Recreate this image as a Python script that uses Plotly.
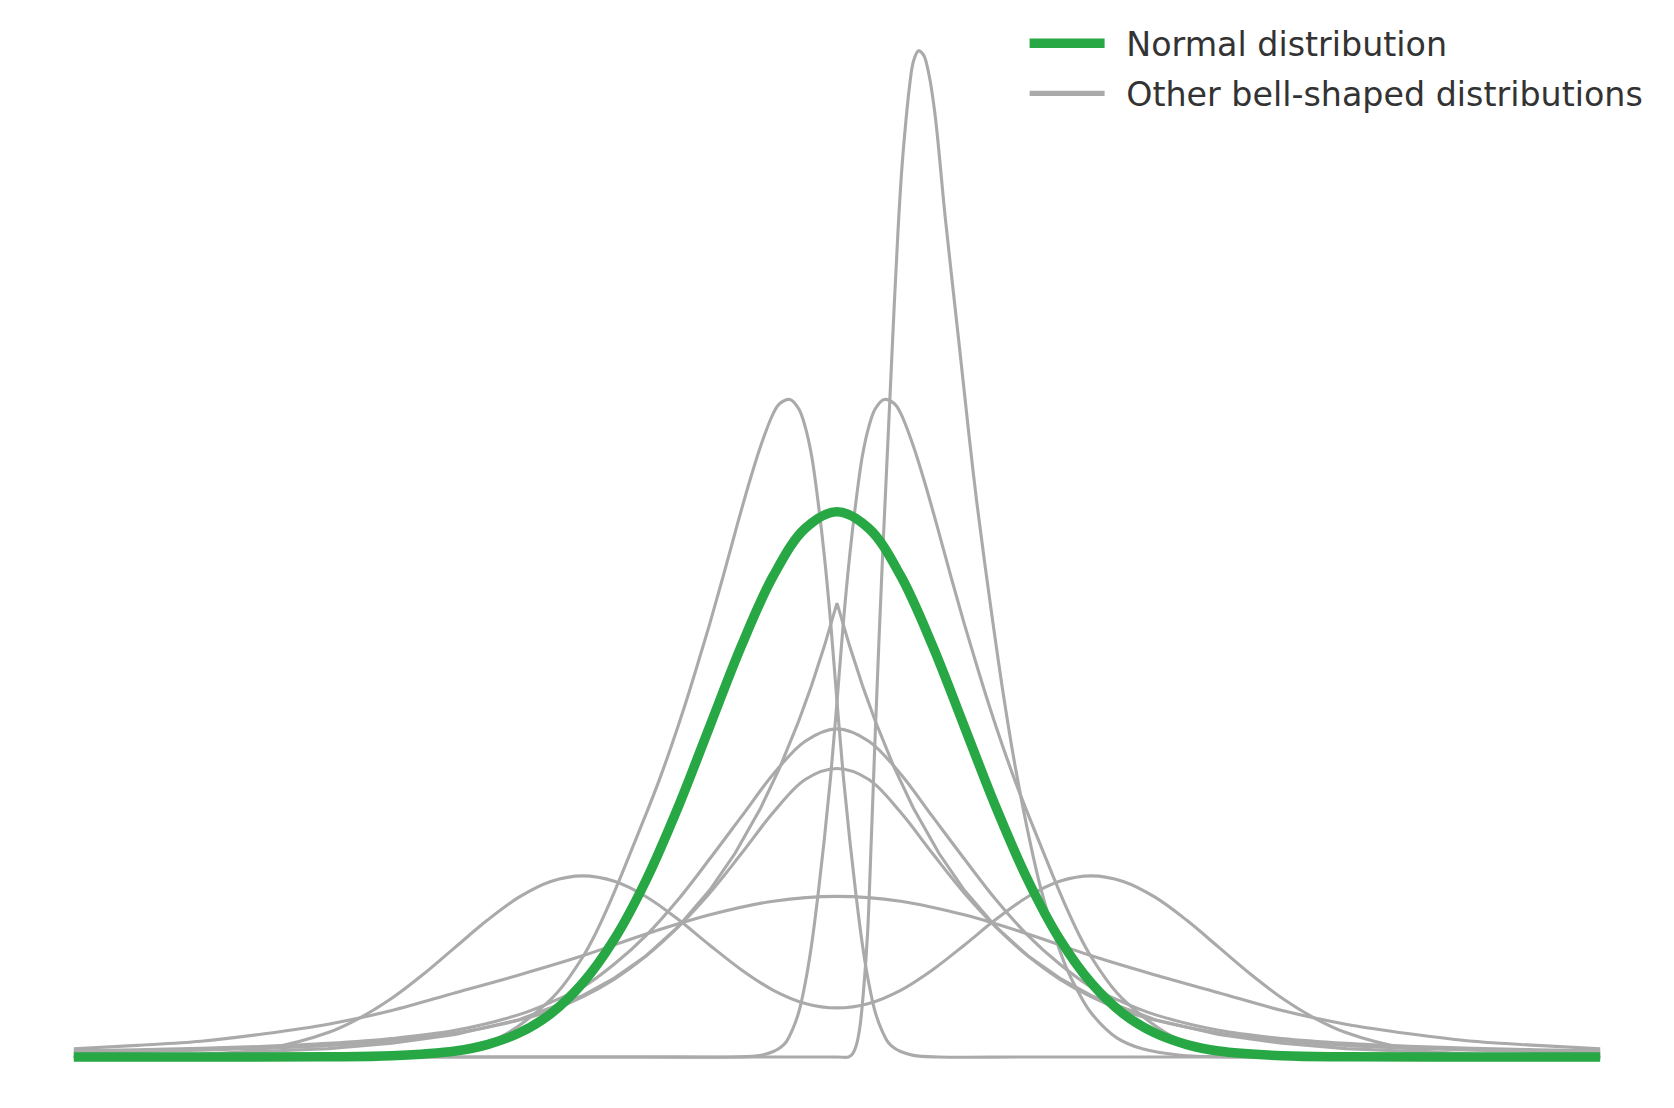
import plotly.graph_objects as go

# ---------------- data ----------------
# Normal distribution (green)
normal_x = [-6, -5, -4, -3.5, -3, -2.75, -2.5, -2.25, -2, -1.75, -1.5, -1.25, -1, -0.75, -0.5, -0.25,
            0, 0.25, 0.5, 0.75, 1, 1.25, 1.5, 1.75, 2, 2.25, 2.5, 2.75, 3, 3.5, 4, 5, 6]
normal_y = [0, 0, 0.0001, 0.0009, 0.0044, 0.0091, 0.0175, 0.0317, 0.0540, 0.0863, 0.1295, 0.1826,
            0.2420, 0.3011, 0.3521, 0.3867, 0.3989, 0.3867, 0.3521, 0.3011, 0.2420, 0.1826, 0.1295,
            0.0863, 0.0540, 0.0317, 0.0175, 0.0091, 0.0044, 0.0009, 0.0001, 0, 0]

# Tall, narrow right-skewed curve
tall_x = [-6, 0, 0.09, 0.12, 0.15, 0.18, 0.21, 0.24, 0.27, 0.30, 0.33, 0.36, 0.39, 0.42, 0.45, 0.48,
          0.51, 0.54, 0.57, 0.60, 0.64, 0.68, 0.72, 0.77, 0.85, 0.95, 1.04, 1.1, 1.2, 1.3, 1.4, 1.5,
          1.6, 1.7, 1.8, 1.9, 2.0, 2.2, 2.4, 2.7, 3.0, 4.0, 5.0, 6.0]
tall_y = [0, 0, 0.000, 0.002, 0.008, 0.022, 0.05, 0.09, 0.16, 0.235, 0.305, 0.37, 0.43, 0.49, 0.55,
          0.605, 0.65, 0.683, 0.71, 0.728, 0.736, 0.733, 0.72, 0.69, 0.615, 0.53, 0.453, 0.405, 0.335,
          0.27, 0.213, 0.165, 0.124, 0.092, 0.066, 0.047, 0.032, 0.014, 0.006, 0.0013, 0.0002, 0, 0, 0]

# Left-skewed curve (peak left of centre)
left_skew_x = [-6, -4, -3.6, -3.3, -3.0, -2.8, -2.6, -2.4, -2.2, -2.0, -1.9, -1.8, -1.7, -1.6, -1.5,
               -1.4, -1.3, -1.2, -1.1, -1.0, -0.9, -0.8, -0.7, -0.6, -0.5, -0.45, -0.37, -0.30,
               -0.25, -0.20, -0.15, -0.10, -0.05, 0.0, 0.05, 0.10, 0.15, 0.20, 0.25, 0.30, 0.35,
               0.40, 0.45, 0.50, 0.60, 0.8, 1.5, 3, 6]
left_skew_y = [0, 0, 0.0004, 0.0015, 0.0045, 0.009, 0.017, 0.030, 0.047, 0.073, 0.09, 0.11, 0.132,
               0.155, 0.178, 0.202, 0.228, 0.256, 0.286, 0.317, 0.350, 0.384, 0.417, 0.447, 0.471,
               0.478, 0.481, 0.474, 0.461, 0.440, 0.407, 0.367, 0.318, 0.260, 0.205, 0.159, 0.118,
               0.082, 0.054, 0.033, 0.020, 0.011, 0.0065, 0.004, 0.0012, 0, 0, 0, 0]

# Right-skewed curve (mirror of the one above)
right_skew_x = [-6, -3, -1.5, -0.8, -0.60, -0.50, -0.45, -0.40, -0.35, -0.30, -0.25, -0.20, -0.15,
                -0.10, -0.05, 0.0, 0.05, 0.10, 0.15, 0.20, 0.25, 0.30, 0.37, 0.45, 0.5, 0.6, 0.7,
                0.8, 0.9, 1.0, 1.1, 1.2, 1.3, 1.4, 1.5, 1.6, 1.7, 1.8, 1.9, 2.0, 2.2, 2.4, 2.6,
                2.8, 3.0, 3.3, 3.6, 4, 6]
right_skew_y = [0, 0, 0, 0, 0.0012, 0.004, 0.0065, 0.011, 0.020, 0.033, 0.054, 0.082, 0.118, 0.159,
                0.205, 0.260, 0.318, 0.367, 0.407, 0.440, 0.461, 0.474, 0.481, 0.478, 0.471, 0.447,
                0.417, 0.384, 0.350, 0.317, 0.286, 0.256, 0.228, 0.202, 0.178, 0.155, 0.132, 0.11,
                0.09, 0.073, 0.047, 0.030, 0.017, 0.009, 0.0045, 0.0015, 0.0004, 0, 0]

# Pointed (Laplace-like) curve
pointed_x = [-6, -5, -4, -3.5, -3, -2.5, -2, -1.75, -1.5, -1.25, -1, -0.8, -0.6, -0.45, -0.3, -0.2,
             -0.1, 0, 0.1, 0.2, 0.3, 0.45, 0.6, 0.8, 1, 1.25, 1.5, 1.75, 2, 2.5, 3, 3.5, 4, 5, 6]
pointed_y = [0.0008, 0.0022, 0.0061, 0.0100, 0.0165, 0.0273, 0.0449, 0.0577, 0.0741, 0.0951, 0.1221,
             0.1492, 0.1822, 0.2117, 0.2460, 0.2718, 0.3004, 0.332, 0.3004, 0.2718, 0.2460, 0.2117,
             0.1822, 0.1492, 0.1221, 0.0951, 0.0741, 0.0577, 0.0449, 0.0273, 0.0165, 0.0100,
             0.0061, 0.0022, 0.0008]

# Symmetric heavy-tailed curves
sym_x = [-6, -5.5, -5, -4.5, -4, -3.5, -3, -2.5, -2.25, -2, -1.75, -1.5, -1.25, -1, -0.75, -0.5,
         -0.25, 0, 0.25, 0.5, 0.75, 1, 1.25, 1.5, 1.75, 2, 2.25, 2.5, 3, 3.5, 4, 4.5, 5, 5.5, 6]
heavy_a_y = [0.0045, 0.0053, 0.0063, 0.0078, 0.0100, 0.0135, 0.0195, 0.031, 0.040, 0.051, 0.068,
             0.089, 0.115, 0.145, 0.176, 0.207, 0.231, 0.240, 0.231, 0.207, 0.176, 0.145, 0.115,
             0.089, 0.068, 0.051, 0.040, 0.031, 0.0195, 0.0135, 0.0100, 0.0078, 0.0063, 0.0053,
             0.0045]
heavy_b_y = [0.0033, 0.004, 0.005, 0.0064, 0.0085, 0.012, 0.0175, 0.027, 0.034, 0.044, 0.057,
             0.074, 0.095, 0.120, 0.149, 0.179, 0.203, 0.211, 0.203, 0.179, 0.149, 0.120, 0.095,
             0.074, 0.057, 0.044, 0.034, 0.027, 0.0175, 0.012, 0.0085, 0.0064, 0.005, 0.004,
             0.0033]

# Wide, flat curve
wide_x = [-6, -5.5, -5, -4.5, -4, -3.5, -3, -2.5, -2, -1.5, -1, -0.5, 0, 0.5, 1, 1.5, 2, 2.5, 3,
          3.5, 4, 4.5, 5, 5.5, 6]
wide_y = [0.006, 0.0085, 0.0115, 0.017, 0.024, 0.034, 0.047, 0.060, 0.074, 0.090, 0.104, 0.114,
          0.1175, 0.114, 0.104, 0.090, 0.074, 0.060, 0.047, 0.034, 0.024, 0.017, 0.0115, 0.0085,
          0.006]

# Bimodal curve
bimodal_x = [-6, -5.5, -5, -4.5, -4, -3.75, -3.5, -3.25, -3, -2.75, -2.5, -2.25, -2, -1.75, -1.5,
             -1.25, -1, -0.75, -0.5, -0.25, 0, 0.25, 0.5, 0.75, 1, 1.25, 1.5, 1.75, 2, 2.25, 2.5,
             2.75, 3, 3.25, 3.5, 3.75, 4, 4.5, 5, 5.5, 6]
bimodal_y = [0.0000, 0.0003, 0.0015, 0.0058, 0.0179, 0.0287, 0.0430, 0.0607, 0.0804, 0.1000,
             0.1169, 0.1284, 0.1325, 0.1285, 0.1172, 0.1007, 0.0818, 0.0637, 0.0488, 0.0392,
             0.0359, 0.0392, 0.0488, 0.0637, 0.0818, 0.1007, 0.1172, 0.1285, 0.1325, 0.1284,
             0.1169, 0.1000, 0.0804, 0.0607, 0.0430, 0.0287, 0.0179, 0.0058, 0.0015, 0.0003,
             0.0000]

legend_names = ["Normal distribution", "Other bell-shaped distributions"]

# ---------------- figure ----------------
GRAY = "#aaaaaa"
GREEN = "#28a745"
GAP = "\u2002"  # spacing between legend symbol and its label

fig = go.Figure()

gray_curves = [
    (bimodal_x, bimodal_y, "spline"),
    (wide_x, wide_y, "spline"),
    (sym_x, heavy_b_y, "spline"),
    (sym_x, heavy_a_y, "spline"),
    (pointed_x, pointed_y, "linear"),
    (left_skew_x, left_skew_y, "spline"),
    (right_skew_x, right_skew_y, "spline"),
    (tall_x, tall_y, "spline"),
]
for xs, ys, shape in gray_curves:
    fig.add_trace(go.Scatter(
        x=xs, y=ys, mode="lines",
        line=dict(color=GRAY, width=3.1, shape=shape),
        name=legend_names[1], legendgroup="other",
        showlegend=False, hoverinfo="skip",
    ))

# legend entry for the gray family (drawn with a thicker sample line, as in the reference)
fig.add_trace(go.Scatter(
    x=[None], y=[None], mode="lines",
    line=dict(color=GRAY, width=5.3),
    name=GAP + legend_names[1], legendgroup="other",
    showlegend=True, legendrank=2, hoverinfo="skip",
))

fig.add_trace(go.Scatter(
    x=normal_x, y=normal_y, mode="lines",
    line=dict(color=GREEN, width=9.5, shape="spline"),
    name=GAP + legend_names[0], legendgroup="normal",
    showlegend=True, legendrank=1, hoverinfo="skip",
))

W, H = 1658, 1092  # page body keeps an 8px margin
fig.update_layout(
    width=W, height=H,
    margin=dict(l=0, r=0, t=0, b=0),
    paper_bgcolor="white", plot_bgcolor="white",
    xaxis=dict(range=[-6.5173, 6.5173], visible=False, showgrid=False, zeroline=False),
    yaxis=dict(range=[-0.031456, 0.76737], visible=False, showgrid=False, zeroline=False),
    font=dict(family="DejaVu Sans", size=33.3, color="#333333"),
    legend=dict(
        x=1016.6 / W, y=1 - 7 / H, xanchor="left", yanchor="top",
        bgcolor="rgba(0,0,0,0)", borderwidth=0, itemwidth=75,
        font=dict(family="DejaVu Sans", size=33.3, color="#333333"),
        traceorder="grouped", tracegroupgap=4,
    ),
    showlegend=True,
)

fig.write_html("out.html")
